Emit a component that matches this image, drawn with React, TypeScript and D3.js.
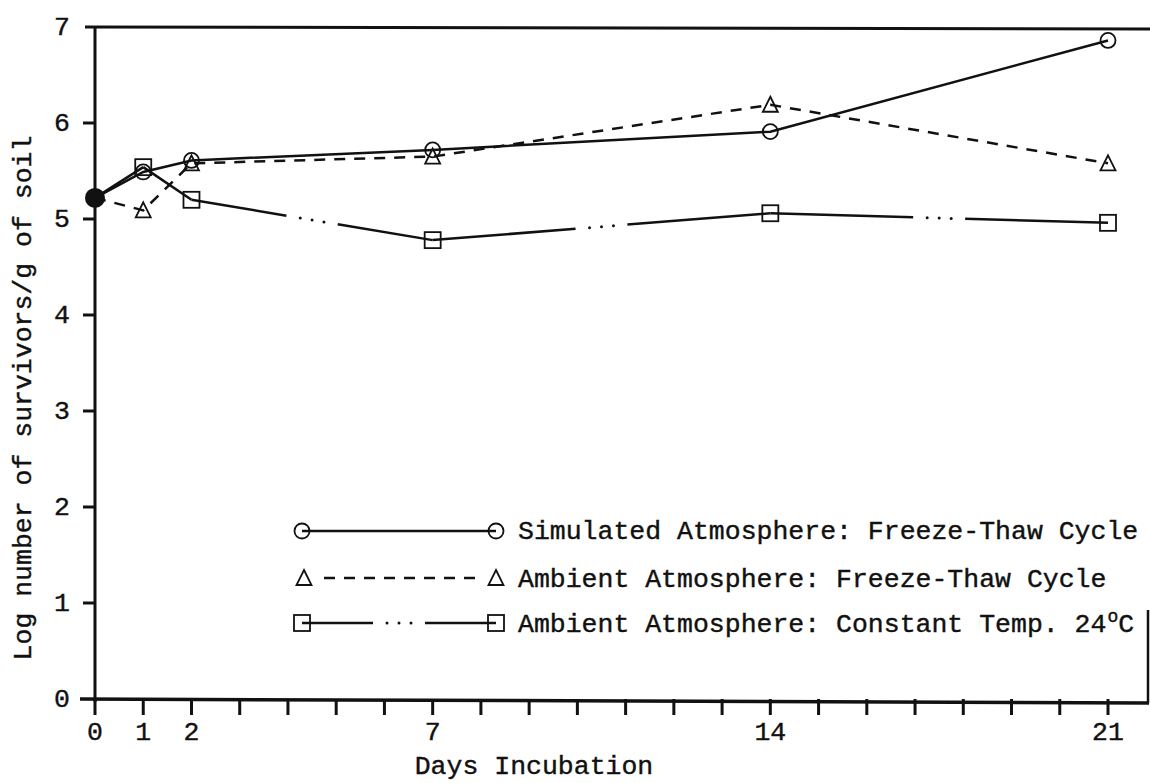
import React from "react";
import * as d3 from "d3";

const days = [0, 1, 2, 7, 14, 21];
const simulatedFreezeThaw = [5.22, 5.49, 5.61, 5.72, 5.91, 6.86];
const ambientFreezeThaw = [5.22, 5.09, 5.58, 5.65, 6.19, 5.58];
const ambientConstant = [5.22, 5.54, 5.2, 4.78, 5.06, 4.96];

const xTickDays = d3.range(0, 22);
const xTickLabels = [0, 1, 2, 7, 14, 21];
const yTicks = [0, 1, 2, 3, 4, 5, 6, 7];

const legendLabels = [
  "Simulated Atmosphere: Freeze-Thaw Cycle",
  "Ambient Atmosphere: Freeze-Thaw Cycle",
  "Ambient Atmosphere: Constant Temp. 24",
];
const xTitle = "Days Incubation";
const yTitle = "Log number of survivors/g of soil";

const FONT = "'Liberation Mono', 'Courier New', monospace";
const INK = "#111";

const x = d3.scaleLinear().domain([0, 21]).range([95, 1108]);
const y = d3.scaleLinear().domain([0, 7]).range([699, 27]);

function Circle({ cx, cy }: { cx: number; cy: number }) {
  return <circle cx={cx} cy={cy} r={7.5} fill="none" stroke={INK} strokeWidth={1.8} />;
}
function Triangle({ cx, cy }: { cx: number; cy: number }) {
  const s = 15;
  const h = 14;
  const p = d3.path();
  p.moveTo(cx, cy - h / 2 - 1);
  p.lineTo(cx + s / 2, cy + h / 2);
  p.lineTo(cx - s / 2, cy + h / 2);
  p.closePath();
  return <path d={p.toString()} fill="none" stroke={INK} strokeWidth={1.8} />;
}
function Square({ cx, cy }: { cx: number; cy: number }) {
  const s = 16;
  return <rect x={cx - s / 2} y={cy - s / 2} width={s} height={s} fill="none" stroke={INK} strokeWidth={1.8} />;
}

// solid - dots - solid segment
function DotSegment({ x1, y1, x2, y2, sw }: { x1: number; y1: number; x2: number; y2: number; sw: number }) {
  const dx = x2 - x1;
  const dy = y2 - y1;
  const L = Math.hypot(dx, dy);
  if (L < 100) {
    return <line x1={x1} y1={y1} x2={x2} y2={y2} stroke={INK} strokeWidth={sw} />;
  }
  const ux = dx / L;
  const uy = dy / L;
  const mid = L / 2;
  const half = 26;
  const a = mid - half;
  const b = mid + half;
  const dots = [-12, 0, 12].map((o) => mid + o);
  return (
    <g>
      <line x1={x1} y1={y1} x2={x1 + ux * a} y2={y1 + uy * a} stroke={INK} strokeWidth={sw} />
      <line x1={x1 + ux * b} y1={y1 + uy * b} x2={x2} y2={y2} stroke={INK} strokeWidth={sw} />
      {dots.map((t, i) => (
        <circle key={i} cx={x1 + ux * t} cy={y1 + uy * t} r={1.5} fill={INK} />
      ))}
    </g>
  );
}

export default function App() {
  const line = d3
    .line<number>()
    .x((_, i) => x(days[i]))
    .y((v) => y(v));

  const textStyle = { fontFamily: FONT, fontSize: 26.5, fill: INK, stroke: INK, strokeWidth: 0.4 } as const;

  const legendY = [531, 578, 623];
  const lx1 = 302;
  const lx2 = 496;
  const ltx = 518;

  return (
    <svg width={1150} height={783} style={{ position: "absolute", left: 0, top: 0, background: "#fff" }}>
      <rect x={0} y={0} width={1150} height={783} fill="#fff" />
      {/* frame and axes */}
      <line x1={85} y1={y(7)} x2={1150} y2={y(7) + 2} stroke={INK} strokeWidth={3} />
      <line x1={x(0)} y1={y(7)} x2={x(0)} y2={y(0) + 3} stroke={INK} strokeWidth={3} />
      <line x1={80} y1={y(0)} x2={1149} y2={y(0) + 4} stroke={INK} strokeWidth={3.5} />
      <line x1={1148} y1={610} x2={1148} y2={y(0) + 4} stroke={INK} strokeWidth={2.5} />
      {yTicks
        .filter((t) => t > 0 && t < 7)
        .map((t) => (
          <line key={t} x1={x(0) - 12} y1={y(t)} x2={x(0)} y2={y(t)} stroke={INK} strokeWidth={3} />
        ))}
      {xTickDays.map((d) => (
        <line key={d} x1={x(d)} y1={y(0)} x2={x(d)} y2={y(0) + 16} stroke={INK} strokeWidth={3} />
      ))}
      {yTicks.map((t) => (
        <text key={t} x={62} y={y(t)} dy="0.32em" textAnchor="middle" style={textStyle}>
          {t}
        </text>
      ))}
      {xTickLabels.map((d) => (
        <text key={d} x={x(d)} y={740} textAnchor="middle" style={textStyle}>
          {d}
        </text>
      ))}
      <text x={534} y={774} textAnchor="middle" style={textStyle}>
        {xTitle}
      </text>
      <text transform="translate(31,398) rotate(-90)" textAnchor="middle" style={textStyle}>
        {yTitle}
      </text>

      {/* series lines */}
      <path d={line(simulatedFreezeThaw) || ""} fill="none" stroke={INK} strokeWidth={2.5} />
      <path d={line(ambientFreezeThaw) || ""} fill="none" stroke={INK} strokeWidth={2.5} strokeDasharray="11 9" />
      {ambientConstant.slice(1).map((v, i) => (
        <DotSegment key={i} x1={x(days[i])} y1={y(ambientConstant[i])} x2={x(days[i + 1])} y2={y(v)} sw={2.5} />
      ))}

      {/* markers */}
      {simulatedFreezeThaw.map((v, i) => (i === 0 ? null : <Circle key={i} cx={x(days[i])} cy={y(v)} />))}
      {ambientFreezeThaw.map((v, i) => (i === 0 ? null : <Triangle key={i} cx={x(days[i])} cy={y(v)} />))}
      {ambientConstant.map((v, i) => (i === 0 ? null : <Square key={i} cx={x(days[i])} cy={y(v)} />))}
      <circle cx={x(days[0])} cy={y(simulatedFreezeThaw[0])} r={10} fill={INK} />

      {/* legend */}
      <line x1={lx1} y1={legendY[0]} x2={lx2} y2={legendY[0]} stroke={INK} strokeWidth={2.5} />
      <Circle cx={lx1} cy={legendY[0]} />
      <Circle cx={lx2} cy={legendY[0]} />
      <line x1={lx1 + 22} y1={legendY[1]} x2={lx2 - 12} y2={legendY[1]} stroke={INK} strokeWidth={2.5} strokeDasharray="11 9" />
      <Triangle cx={lx1 + 2} cy={legendY[1]} />
      <Triangle cx={lx2} cy={legendY[1]} />
      <DotSegment x1={lx1} y1={legendY[2]} x2={lx2} y2={legendY[2]} sw={2.5} />
      <Square cx={lx1} cy={legendY[2]} />
      <Square cx={lx2} cy={legendY[2]} />
      <text x={ltx} y={legendY[0] + 8} style={textStyle}>
        {legendLabels[0]}
      </text>
      <text x={ltx} y={legendY[1] + 9} style={textStyle}>
        {legendLabels[1]}
      </text>
      <text x={ltx} y={legendY[2] + 9} style={textStyle}>
        {legendLabels[2]}
        <tspan fontSize={18} dy={-10} dx={1}>
          o
        </tspan>
        <tspan dy={10}>C</tspan>
      </text>
    </svg>
  );
}
